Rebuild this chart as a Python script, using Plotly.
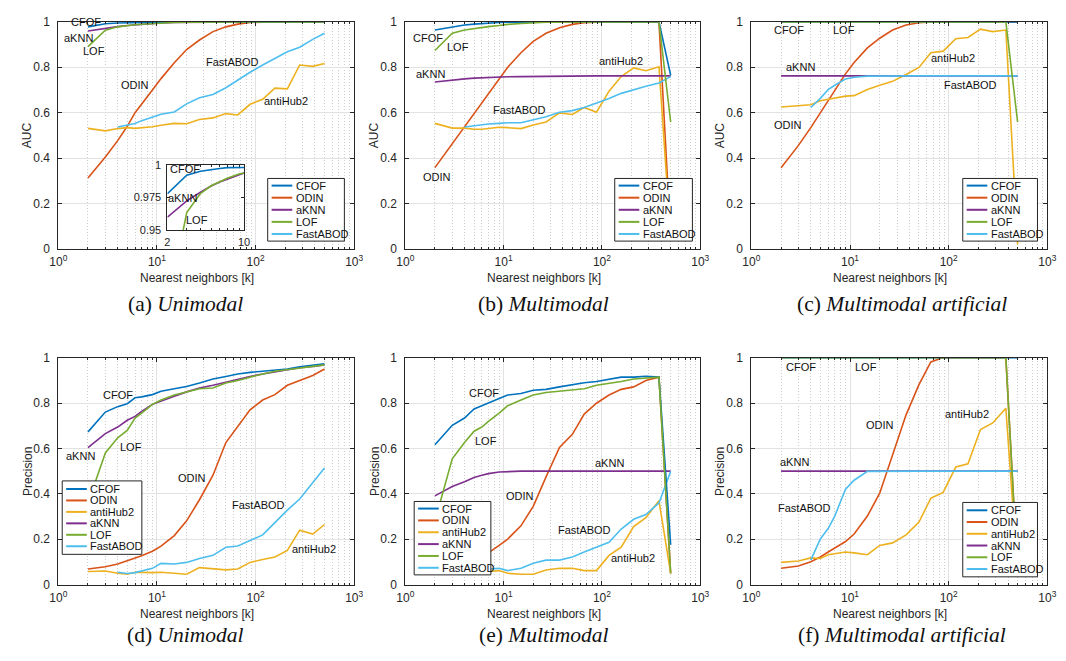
import math
import plotly.graph_objects as go

W, H = 1066, 661

# ---------------- data ----------------
k = [2, 3, 4, 5, 6, 7, 9, 11, 15, 20, 27, 37, 50, 66, 88, 118, 157, 210, 280, 380, 500]
methods = ["CFOF", "ODIN", "antiHub2", "aKNN", "LOF", "FastABOD"]
colors = {"CFOF": "#0072BD", "ODIN": "#D95319", "antiHub2": "#EDB120",
          "aKNN": "#7E2F8E", "LOF": "#77AC30", "FastABOD": "#4DBEEE"}
N = None

# (a) Unimodal - AUC
a_cfof = [0.978, 0.992, 0.995, 0.9965, 0.9972, 0.9978, 0.9985, 0.999, 0.9993, 0.9995, 0.9997, 0.9998, 0.9999, 1, 1, 1, 1, 1, 1, 1, 1]
a_odin = [0.312, 0.405, 0.477, 0.54, 0.60, 0.64, 0.70, 0.75, 0.82, 0.878, 0.92, 0.957, 0.978, 0.99, 0.997, 0.999, 1, 1, 1, 1, 1]
a_antihub = [0.531, 0.52, 0.53, 0.534, 0.531, 0.533, 0.538, 0.545, 0.553, 0.551, 0.57, 0.577, 0.596, 0.59, 0.637, 0.659, 0.708, 0.705, 0.81, 0.804, 0.817]
a_aknn = [0.960, 0.9725, 0.979, 0.9838, 0.9868, 0.989, 0.9929, 0.995, 0.997, 0.998, 0.999, 0.9995, 0.9997, 0.9998, 1, 1, 1, 1, 1, 1, 1]
a_lof = [0.891, 0.9635, 0.978, 0.984, 0.987, 0.9897, 0.993, 0.995, 0.997, 0.998, 0.999, 0.9995, 0.9997, 0.9998, 1, 1, 1, 1, 1, 1, 1]
a_fastabod = [N, N, 0.537, 0.545, 0.552, 0.565, 0.58, 0.593, 0.603, 0.639, 0.666, 0.68, 0.71, 0.745, 0.778, 0.81, 0.84, 0.868, 0.888, 0.923, 0.95]

# (b) Multimodal - AUC
b_cfof = [0.964, 0.978, 0.986, 0.99, 0.993, 0.995, 0.997, 0.998, 0.999, 1, 1, 1, 1, 1, 1, 1, 1, 1, 1, 1, 0.765]
b_odin = [0.358, 0.463, 0.542, 0.599, 0.642, 0.685, 0.749, 0.80, 0.864, 0.914, 0.95, 0.974, 0.989, 0.996, 0.998, 1, 1, 1, 1, 1, 0.05]
b_antihub = [0.553, 0.532, 0.532, 0.527, 0.527, 0.53, 0.536, 0.534, 0.53, 0.546, 0.559, 0.599, 0.592, 0.623, 0.602, 0.695, 0.759, 0.797, 0.785, 0.802, 0.05]
b_aknn = [0.735, 0.745, 0.749, 0.752, 0.754, 0.755, 0.757, 0.758, 0.759, 0.76, 0.761, 0.761, 0.762, 0.762, 0.762, 0.762, 0.762, 0.762, 0.762, 0.762, 0.762]
b_lof = [0.874, 0.95, 0.964, 0.971, 0.976, 0.979, 0.984, 0.989, 0.993, 0.996, 0.998, 0.999, 1, 1, 1, 1, 1, 1, 1, 1, 0.559]
b_fastabod = [N, N, 0.537, 0.542, 0.549, 0.55, 0.553, 0.556, 0.556, 0.57, 0.582, 0.602, 0.609, 0.623, 0.642, 0.663, 0.685, 0.702, 0.716, 0.731, 0.759]

# (c) Multimodal artificial - AUC
c_cfof = [1, 1, 1, 1, 1, 1, 1, 1, 1, 1, 1, 1, 1, 1, 1, 1, 1, 1, 1, 1, 1]
c_odin = [0.358, 0.456, 0.534, 0.599, 0.653, 0.699, 0.771, 0.821, 0.885, 0.928, 0.964, 0.986, 0.996, 1, 1, 1, 1, 1, 1, 1, 1]
c_antihub = [0.625, 0.630, 0.635, 0.653, 0.659, 0.663, 0.673, 0.675, 0.702, 0.721, 0.738, 0.768, 0.799, 0.864, 0.871, 0.926, 0.931, 0.968, 0.957, 0.964, 0.02]
c_aknn = [0.762, 0.762, 0.762, 0.762, 0.762, 0.762, 0.762, 0.762, 0.762, 0.762, 0.762, 0.762, 0.762, 0.762, 0.762, 0.762, 0.762, 0.762, 0.762, 0.762, 0.762]
c_lof = [1, 1, 1, 1, 1, 1, 1, 1, 1, 1, 1, 1, 1, 1, 1, 1, 1, 1, 1, 1, 0.559]
c_fastabod = [N, N, 0.623, 0.663, 0.702, 0.721, 0.748, 0.756, 0.761, 0.762, 0.762, 0.762, 0.762, 0.762, 0.762, 0.762, 0.762, 0.762, 0.762, 0.762, 0.762]

# (d) Unimodal - Precision
d_cfof = [0.673, 0.760, 0.784, 0.797, 0.823, 0.827, 0.837, 0.852, 0.863, 0.873, 0.888, 0.906, 0.917, 0.928, 0.935, 0.94, 0.945, 0.95, 0.96, 0.967, 0.973]
d_odin = [0.069, 0.079, 0.091, 0.104, 0.115, 0.127, 0.147, 0.170, 0.216, 0.281, 0.374, 0.482, 0.626, 0.698, 0.770, 0.813, 0.837, 0.878, 0.899, 0.921, 0.95]
d_antihub = [0.058, 0.06, 0.05, 0.046, 0.055, 0.053, 0.053, 0.055, 0.049, 0.046, 0.075, 0.069, 0.065, 0.069, 0.098, 0.111, 0.122, 0.151, 0.24, 0.223, 0.265]
d_aknn = [0.604, 0.665, 0.694, 0.724, 0.741, 0.763, 0.794, 0.809, 0.830, 0.849, 0.866, 0.878, 0.892, 0.906, 0.917, 0.928, 0.938, 0.945, 0.955, 0.961, 0.967]
d_lof = [0.36, 0.58, 0.647, 0.679, 0.734, 0.755, 0.794, 0.813, 0.835, 0.849, 0.863, 0.866, 0.888, 0.899, 0.914, 0.928, 0.94, 0.947, 0.957, 0.964, 0.968]
d_fastabod = [N, N, 0.055, 0.049, 0.053, 0.06, 0.072, 0.094, 0.091, 0.098, 0.115, 0.129, 0.165, 0.170, 0.194, 0.219, 0.273, 0.328, 0.377, 0.449, 0.514]

# (e) Multimodal - Precision
e_cfof = [0.616, 0.702, 0.734, 0.774, 0.788, 0.801, 0.82, 0.835, 0.842, 0.856, 0.860, 0.871, 0.881, 0.889, 0.895, 0.904, 0.914, 0.914, 0.918, 0.914, 0.176]
e_odin = [0.075, 0.085, 0.095, 0.11, 0.125, 0.14, 0.173, 0.201, 0.259, 0.345, 0.475, 0.604, 0.662, 0.751, 0.799, 0.835, 0.860, 0.871, 0.899, 0.914, 0.05]
e_antihub = [0.06, 0.058, 0.055, 0.055, 0.058, 0.058, 0.062, 0.05, 0.046, 0.046, 0.065, 0.072, 0.072, 0.062, 0.062, 0.129, 0.165, 0.256, 0.295, 0.37, 0.05]
e_aknn = [0.391, 0.432, 0.453, 0.472, 0.482, 0.489, 0.496, 0.498, 0.5, 0.5, 0.5, 0.5, 0.5, 0.5, 0.5, 0.5, 0.5, 0.5, 0.5, 0.5, 0.5]
e_lof = [0.28, 0.554, 0.626, 0.676, 0.694, 0.719, 0.755, 0.788, 0.813, 0.835, 0.846, 0.852, 0.856, 0.863, 0.878, 0.885, 0.895, 0.906, 0.909, 0.914, 0.05]
e_fastabod = [N, N, 0.065, 0.065, 0.066, 0.069, 0.072, 0.062, 0.072, 0.094, 0.108, 0.108, 0.122, 0.144, 0.165, 0.187, 0.245, 0.288, 0.309, 0.36, 0.499]

# (f) Multimodal artificial - Precision
f_cfof = [1, 1, 1, 1, 1, 1, 1, 1, 1, 1, 1, 1, 1, 1, 1, 1, 1, 1, 1, 1, 1]
f_odin = [0.072, 0.082, 0.101, 0.122, 0.144, 0.161, 0.19, 0.223, 0.302, 0.403, 0.568, 0.748, 0.881, 0.981, 1, 1, 1, 1, 1, 1, 0.05]
f_antihub = [0.098, 0.104, 0.118, 0.115, 0.132, 0.137, 0.144, 0.14, 0.132, 0.173, 0.184, 0.219, 0.276, 0.381, 0.406, 0.518, 0.532, 0.683, 0.712, 0.777, 0.05]
f_aknn = [0.5, 0.5, 0.5, 0.5, 0.5, 0.5, 0.5, 0.5, 0.5, 0.5, 0.5, 0.5, 0.5, 0.5, 0.5, 0.5, 0.5, 0.5, 0.5, 0.5, 0.5]
f_lof = [1, 1, 1, 1, 1, 1, 1, 1, 1, 1, 1, 1, 1, 1, 1, 1, 1, 1, 1, 1, 0.05]
f_fastabod = [N, N, 0.108, 0.201, 0.247, 0.302, 0.42, 0.46, 0.499, 0.5, 0.5, 0.5, 0.5, 0.5, 0.5, 0.5, 0.5, 0.5, 0.5, 0.5, 0.5]

panels = [
    {"CFOF": a_cfof, "ODIN": a_odin, "antiHub2": a_antihub, "aKNN": a_aknn, "LOF": a_lof, "FastABOD": a_fastabod},
    {"CFOF": b_cfof, "ODIN": b_odin, "antiHub2": b_antihub, "aKNN": b_aknn, "LOF": b_lof, "FastABOD": b_fastabod},
    {"CFOF": c_cfof, "ODIN": c_odin, "antiHub2": c_antihub, "aKNN": c_aknn, "LOF": c_lof, "FastABOD": c_fastabod},
    {"CFOF": d_cfof, "ODIN": d_odin, "antiHub2": d_antihub, "aKNN": d_aknn, "LOF": d_lof, "FastABOD": d_fastabod},
    {"CFOF": e_cfof, "ODIN": e_odin, "antiHub2": e_antihub, "aKNN": e_aknn, "LOF": e_lof, "FastABOD": e_fastabod},
    {"CFOF": f_cfof, "ODIN": f_odin, "antiHub2": f_antihub, "aKNN": f_aknn, "LOF": f_lof, "FastABOD": f_fastabod},
]
captions = ["(a) <i>Unimodal</i>", "(b) <i>Multimodal</i>", "(c) <i>Multimodal artificial</i>",
            "(d) <i>Unimodal</i>", "(e) <i>Multimodal</i>", "(f) <i>Multimodal artificial</i>"]
ytitles = ["AUC", "AUC", "AUC", "Precision", "Precision", "Precision"]
xtitle = "Nearest neighbors [k]"
legend_top = ["CFOF", "ODIN", "aKNN", "LOF", "FastABOD"]
legend_bottom = ["CFOF", "ODIN", "antiHub2", "aKNN", "LOF", "FastABOD"]

# in-plot labels: (text, k, value)
labels = [
    [("CFOF", 1.9, 1.0), ("aKNN", 1.62, 0.931), ("LOF", 2.29, 0.871), ("ODIN", 6.0, 0.72),
     ("FastABOD", 58, 0.823), ("antiHub2", 205, 0.651)],
    [("CFOF", 1.70, 0.931), ("LOF", 3.47, 0.888), ("aKNN", 1.82, 0.772), ("antiHub2", 158, 0.828),
     ("FastABOD", 14.5, 0.612), ("ODIN", 2.09, 0.319)],
    [("CFOF", 2.39, 0.966), ("LOF", 8.63, 0.966), ("aKNN", 3.15, 0.802), ("antiHub2", 110, 0.841),
     ("FastABOD", 166, 0.724), ("ODIN", 2.33, 0.547)],
    [("CFOF", 4.05, 0.836), ("LOF", 5.47, 0.608), ("aKNN", 1.66, 0.565), ("ODIN", 22.6, 0.47),
     ("FastABOD", 108, 0.349), ("antiHub2", 391, 0.155)],
    [("CFOF", 6.3, 0.845), ("LOF", 6.6, 0.634), ("aKNN", 120, 0.534), ("ODIN", 14.8, 0.392),
     ("FastABOD", 66, 0.241), ("antiHub2", 209, 0.116)],
    [("CFOF", 3.22, 0.957), ("LOF", 14.6, 0.957), ("ODIN", 20.2, 0.703), ("antiHub2", 155, 0.75),
     ("aKNN", 2.74, 0.539), ("FastABOD", 3.45, 0.336)],
]
inset_labels = [("CFOF", 2.9, 0.997), ("aKNN", 2.75, 0.9745), ("LOF", 3.75, 0.958)]

# ---------------- layout geometry (pixels) ----------------
cols_px = [(42, 343), (395, 695), (747, 1048)]
rows_px = [(7, 239), (350, 582)]
caption_cx = [171, 536, 900]
caption_cy = [295, 633]
ytitle_x = [11, 364, 715]
xtitle_y = [269, 612]
# legend boxes: x0, y0, x1, y1, row spacing
legend_box = [(255, 167, 333, 231, 12.35), (608, 167, 687, 231, 12.35), (962, 167, 1038, 231, 12.35),
              (46, 476, 127, 551, 11.7), (404, 497, 482, 572, 12.1), (962, 498, 1038, 574, 12.0)]

FONT = "Liberation Sans, Arial, sans-serif"
AXC = "#262626"
draw_order = ["ODIN", "antiHub2", "aKNN", "FastABOD", "CFOF", "LOF"]
minor_vals = [m * 10 ** e for e in range(3) for m in range(2, 10)]


def px_x(v):
    return v / W


def px_y(v):
    return 1 - v / H


fig = go.Figure()
annotations = []
shapes = []
layout = dict(
    width=W, height=H, margin=dict(l=0, r=0, t=0, b=0),
    paper_bgcolor="white", plot_bgcolor="white",
    font=dict(family=FONT, size=11, color=AXC),
    showlegend=False,
)

for p in range(6):
    r, c = divmod(p, 3)
    sfx = "" if p == 0 else str(p + 1)
    xname, yname = "x" + sfx, "y" + sfx
    data = panels[p]
    for m in draw_order:
        fig.add_trace(go.Scatter(
            x=k, y=data[m], mode="lines", name=m,
            line=dict(color=colors[m], width=1.6),
            xaxis=xname, yaxis=yname, connectgaps=False,
        ))
    x0, x1 = cols_px[c]
    y0, y1 = rows_px[r]
    layout["xaxis" + sfx] = dict(
        type="log", range=[0, 3], domain=[px_x(x0), px_x(x1)], anchor=yname,
        tickvals=[1, 10, 100, 1000],
        ticktext=["10<sup>0</sup>", "10<sup>1</sup>", "10<sup>2</sup>", "10<sup>3</sup>"],
        ticks="inside", ticklen=4, tickcolor=AXC, mirror="allticks",
        showline=True, linecolor=AXC, linewidth=1,
        showgrid=True, gridcolor="#e2e2e2", gridwidth=1, zeroline=False,
        minor=dict(tickmode="array", tickvals=minor_vals, ticks="inside", ticklen=2,
                   tickcolor=AXC, showgrid=True, gridcolor="#cdcdcd", griddash="1px,2px", gridwidth=1),
        tickfont=dict(size=12, color=AXC), ticklabelstandoff=2,
    )
    layout["yaxis" + sfx] = dict(
        range=[0, 1], domain=[px_y(y1), px_y(y0)], anchor=xname,
        tickvals=[0, 0.2, 0.4, 0.6, 0.8, 1], ticktext=["0", "0.2", "0.4", "0.6", "0.8", "1"],
        ticks="inside", ticklen=4, tickcolor=AXC, mirror="allticks",
        showline=True, linecolor=AXC, linewidth=1,
        showgrid=True, gridcolor="#e2e2e2", gridwidth=1, zeroline=False,
        tickfont=dict(size=12, color=AXC), ticklabelstandoff=5,
    )
    # axis titles
    annotations.append(dict(
        x=px_x((x0 + x1) / 2 - 9), y=px_y(xtitle_y[r]), xref="paper", yref="paper", text=xtitle,
        showarrow=False, font=dict(size=12, color=AXC, family=FONT), xanchor="center", yanchor="middle"))
    annotations.append(dict(
        x=px_x(ytitle_x[c]), y=px_y((y0 + y1) / 2), xref="paper", yref="paper", text=ytitles[p],
        textangle=-90, showarrow=False, font=dict(size=12, color=AXC, family=FONT),
        xanchor="center", yanchor="middle"))
    # in-plot labels
    for (txt, kk, vv) in labels[p]:
        annotations.append(dict(
            x=math.log10(kk), y=vv, xref=xname, yref=yname, text=txt, showarrow=False,
            font=dict(size=11, color="#111111", family=FONT), xanchor="center", yanchor="middle"))
    # caption
    annotations.append(dict(
        x=px_x(caption_cx[c]), y=px_y(caption_cy[r]), xref="paper", yref="paper", text=captions[p],
        showarrow=False, font=dict(size=21.5, family="Liberation Serif, serif", color="#111111"),
        xanchor="center", yanchor="middle"))
    # legend box (MATLAB-style, compact)
    lx0, ly0, lx1, ly1, s = legend_box[p]
    names = legend_top if r == 0 else legend_bottom
    shapes.append(dict(type="rect", xref="paper", yref="paper", layer="above",
                       x0=px_x(lx0), x1=px_x(lx1), y0=px_y(ly1), y1=px_y(ly0),
                       fillcolor="white", line=dict(color=AXC, width=1)))
    first = ly0 + ((ly1 - ly0) - len(names) * s) / 2 + s / 2
    for i, m in enumerate(names):
        yc = first + i * s
        shapes.append(dict(type="line", xref="paper", yref="paper", layer="above",
                           x0=px_x(lx0 + 4), x1=px_x(lx0 + 25), y0=px_y(yc), y1=px_y(yc),
                           line=dict(color=colors[m], width=2)))
        annotations.append(dict(
            x=px_x(lx0 + 26.5), y=px_y(yc), xref="paper", yref="paper", text=m, showarrow=False,
            font=dict(size=11, color="#111111", family=FONT), xanchor="left", yanchor="middle"))

# ---------------- inset on panel (a) ----------------
for m in ["aKNN", "CFOF", "LOF"]:
    fig.add_trace(go.Scatter(
        x=k, y=panels[0][m], mode="lines", name=m, line=dict(color=colors[m], width=1.6),
        xaxis="x7", yaxis="y7"))
layout["xaxis7"] = dict(
    type="log", range=[math.log10(2), 1], domain=[px_x(153), px_x(231)], anchor="y7",
    tickvals=[2, 10], ticktext=["2", "10"], ticks="inside", ticklen=3, tickcolor=AXC,
    mirror="allticks", showline=True, linecolor=AXC, linewidth=1, showgrid=False, zeroline=False,
    minor=dict(tickmode="array", tickvals=[3, 4, 5, 6, 7, 8, 9], ticks="inside", ticklen=2,
               tickcolor=AXC, showgrid=True, gridcolor="#dddddd", griddash="1px,2px"),
    tickfont=dict(size=11, color=AXC), ticklabelstandoff=1,
)
layout["yaxis7"] = dict(
    range=[0.95, 1], domain=[px_y(220), px_y(153)], anchor="x7",
    tickvals=[0.95, 0.975, 1], ticktext=["0.95", "0.975", "1"], ticks="inside", ticklen=3,
    tickcolor=AXC, mirror="allticks", showline=True, linecolor=AXC, linewidth=1,
    showgrid=False, zeroline=False, tickfont=dict(size=11, color=AXC), ticklabelstandoff=3,
)
for (txt, kk, vv) in inset_labels:
    annotations.append(dict(
        x=math.log10(kk), y=vv, xref="x7", yref="y7", text=txt, showarrow=False,
        font=dict(size=11, color="#111111", family=FONT), xanchor="center", yanchor="middle"))

layout["annotations"] = annotations
layout["shapes"] = shapes
fig.update_layout(**layout)
fig.write_html("out.html")
